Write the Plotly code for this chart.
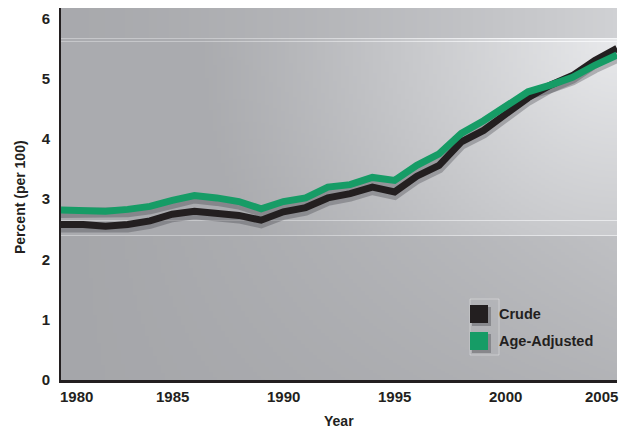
import numpy as np
import plotly.graph_objects as go

# ---------------- data ----------------
years = list(range(1980, 2006))
crude = [2.58, 2.58, 2.55, 2.58, 2.64, 2.75, 2.80, 2.77, 2.73, 2.65,
         2.79, 2.86, 3.02, 3.09, 3.20, 3.12, 3.38, 3.56, 3.95, 4.14,
         4.42, 4.68, 4.89, 5.05, 5.30, 5.50]
age_adjusted = [2.82, 2.82, 2.80, 2.83, 2.88, 2.98, 3.06, 3.02, 2.96, 2.84,
                2.96, 3.02, 3.20, 3.24, 3.36, 3.31, 3.56, 3.75, 4.09, 4.30,
                4.53, 4.78, 4.89, 5.02, 5.22, 5.39]
series_names = ["Crude", "Age-Adjusted"]
series_colors = ["#231f20", "#169c66"]
x_tick_labels = ["1980", "1985", "1990", "1995", "2000", "2005"]
y_tick_vals = [0, 1, 2, 3, 4, 5, 6]

X_MIN, X_MAX = 1980, 2005
Y_MAX = 6.17
TXT = "#231f20"
FONT = "Liberation Sans, Arial, sans-serif"

# page body has an 8px margin; figure placed at (8, 8)
OFF = 8
FIG_W, FIG_H = 628 - OFF, 430 - OFF
# plot area in page pixels
L, R, T, B = 61, 617, 8, 380
W, H = R - L, B - T

# ---------------- background gradient (styling only) ----------------
nx, ny = 139, H
xs = X_MIN + (np.arange(nx) + 0.5) * (X_MAX - X_MIN) / nx
ys = (np.arange(ny) + 0.5) * Y_MAX / ny
u = (xs - X_MIN) / (X_MAX - X_MIN)
g = np.zeros((ny, nx))
for j in range(ny):
    py = B - (j + 0.5)
    if py < 38:
        row = 168 + 40 * u ** 1.5
    elif py < 236:
        t = (py - 38) / 198
        d = np.sqrt(((1 - u) / 0.75) ** 2 + (t / 2.2) ** 2)
        row = 170 + 62 * np.clip(1 - d, 0, 1) ** 1.1
    else:
        t = (py - 236) / 144
        row = 165 + 26 * u ** 1.3 * (1 - 0.5 * t)
    if abs(py - 38.5) < 0.6 or abs(py - 41.5) < 0.6 or abs(py - 220.5) < 0.6 or abs(py - 235.5) < 0.6:
        row = np.minimum(row + 28, 245)
    g[j] = row
z = (g - 150) / 95

fig = go.Figure()
fig.add_trace(go.Heatmap(
    x=xs, y=ys, z=z, zmin=0, zmax=1, zsmooth=False,
    colorscale=[[0, "rgb(150,151,155)"], [1, "rgb(245,246,248)"]],
    showscale=False, hoverinfo="skip"))

# shadows (on a shifted overlay axis)
for vals in (crude, age_adjusted):
    fig.add_trace(go.Scatter(
        x=years, y=vals, mode="lines", yaxis="y2", showlegend=False,
        line=dict(color="rgba(40,40,45,0.28)", width=10), hoverinfo="skip"))

# main lines
for vals, name, col in zip((crude, age_adjusted), series_names, series_colors):
    fig.add_trace(go.Scatter(
        x=years, y=vals, mode="lines", name=name, yaxis="y3", showlegend=False,
        line=dict(color=col, width=7)))

shift = 3 / (H / Y_MAX)

fig.update_layout(
    width=FIG_W, height=FIG_H,
    margin=dict(l=L - OFF, r=628 - R, t=T - OFF, b=430 - B, pad=0),
    paper_bgcolor="white", plot_bgcolor="#b8b9bc",
    font=dict(family=FONT, color=TXT, size=15),
    xaxis=dict(range=[X_MIN, X_MAX], showticklabels=False, showgrid=False,
               zeroline=False, showline=True, linecolor=TXT, linewidth=2.5,
               ticks="", fixedrange=True),
    yaxis=dict(range=[0, Y_MAX], tickvals=y_tick_vals, showgrid=False,
               zeroline=False, showline=True, linecolor=TXT, linewidth=2,
               ticks="", ticklabelstandoff=6,
               tickfont=dict(family=FONT, size=15, color=TXT, weight="bold")),
    yaxis2=dict(range=[shift, Y_MAX + shift], overlaying="y", visible=False),
    yaxis3=dict(range=[0, Y_MAX], overlaying="y", visible=False),
    showlegend=False,
)

ann = []
for lab in x_tick_labels:
    v = int(lab)
    anchor = "left" if v == X_MIN else ("right" if v == X_MAX else "center")
    xs_shift = -3 if anchor == "left" else (3 if anchor == "right" else 0)
    ann.append(dict(x=v, y=0, xref="x", yref="paper", text=lab, showarrow=False,
                    xanchor=anchor, yanchor="middle", yshift=-16, xshift=xs_shift,
                    font=dict(family=FONT, size=15, color=TXT, weight="bold")))
ann.append(dict(x=0.5, y=0, xref="paper", yref="paper", text="Year", showarrow=False,
                xanchor="center", yanchor="middle", yshift=-41,
                font=dict(family=FONT, size=14, color=TXT, weight="bold")))
ann.append(dict(x=0, y=(B - 197) / H, xref="paper", yref="paper", text="Percent (per 100)",
                showarrow=False, textangle=-90, xanchor="center", yanchor="middle",
                xshift=-41, font=dict(family=FONT, size=14, color=TXT, weight="bold")))

# legend drawn manually
shapes = []
def px_x(p):
    return (p - L) / W
def px_y(p):
    return (B - p) / H

shapes.append(dict(type="rect", xref="paper", yref="paper",
                   x0=px_x(470), x1=px_x(499), y0=px_y(355), y1=px_y(299),
                   line=dict(color="rgba(255,255,255,0.35)", width=1), fillcolor="rgba(0,0,0,0)"))
for i, (name, col) in enumerate(zip(series_names, series_colors)):
    top = 305 + i * 27
    shapes.append(dict(type="rect", xref="paper", yref="paper",
                       x0=px_x(472), x1=px_x(491), y0=px_y(top + 21), y1=px_y(top + 2),
                       line=dict(width=0), fillcolor="rgba(40,40,45,0.3)"))
    shapes.append(dict(type="rect", xref="paper", yref="paper",
                       x0=px_x(470), x1=px_x(488), y0=px_y(top + 18), y1=px_y(top),
                       line=dict(width=0), fillcolor=col))
    ann.append(dict(x=px_x(497), y=px_y(top + 9), xref="paper", yref="paper", text=name,
                    showarrow=False, xanchor="left", yanchor="middle",
                    font=dict(family=FONT, size=14.5, color=TXT, weight="bold")))

fig.update_layout(annotations=ann, shapes=shapes)
fig.write_html("out.html")
